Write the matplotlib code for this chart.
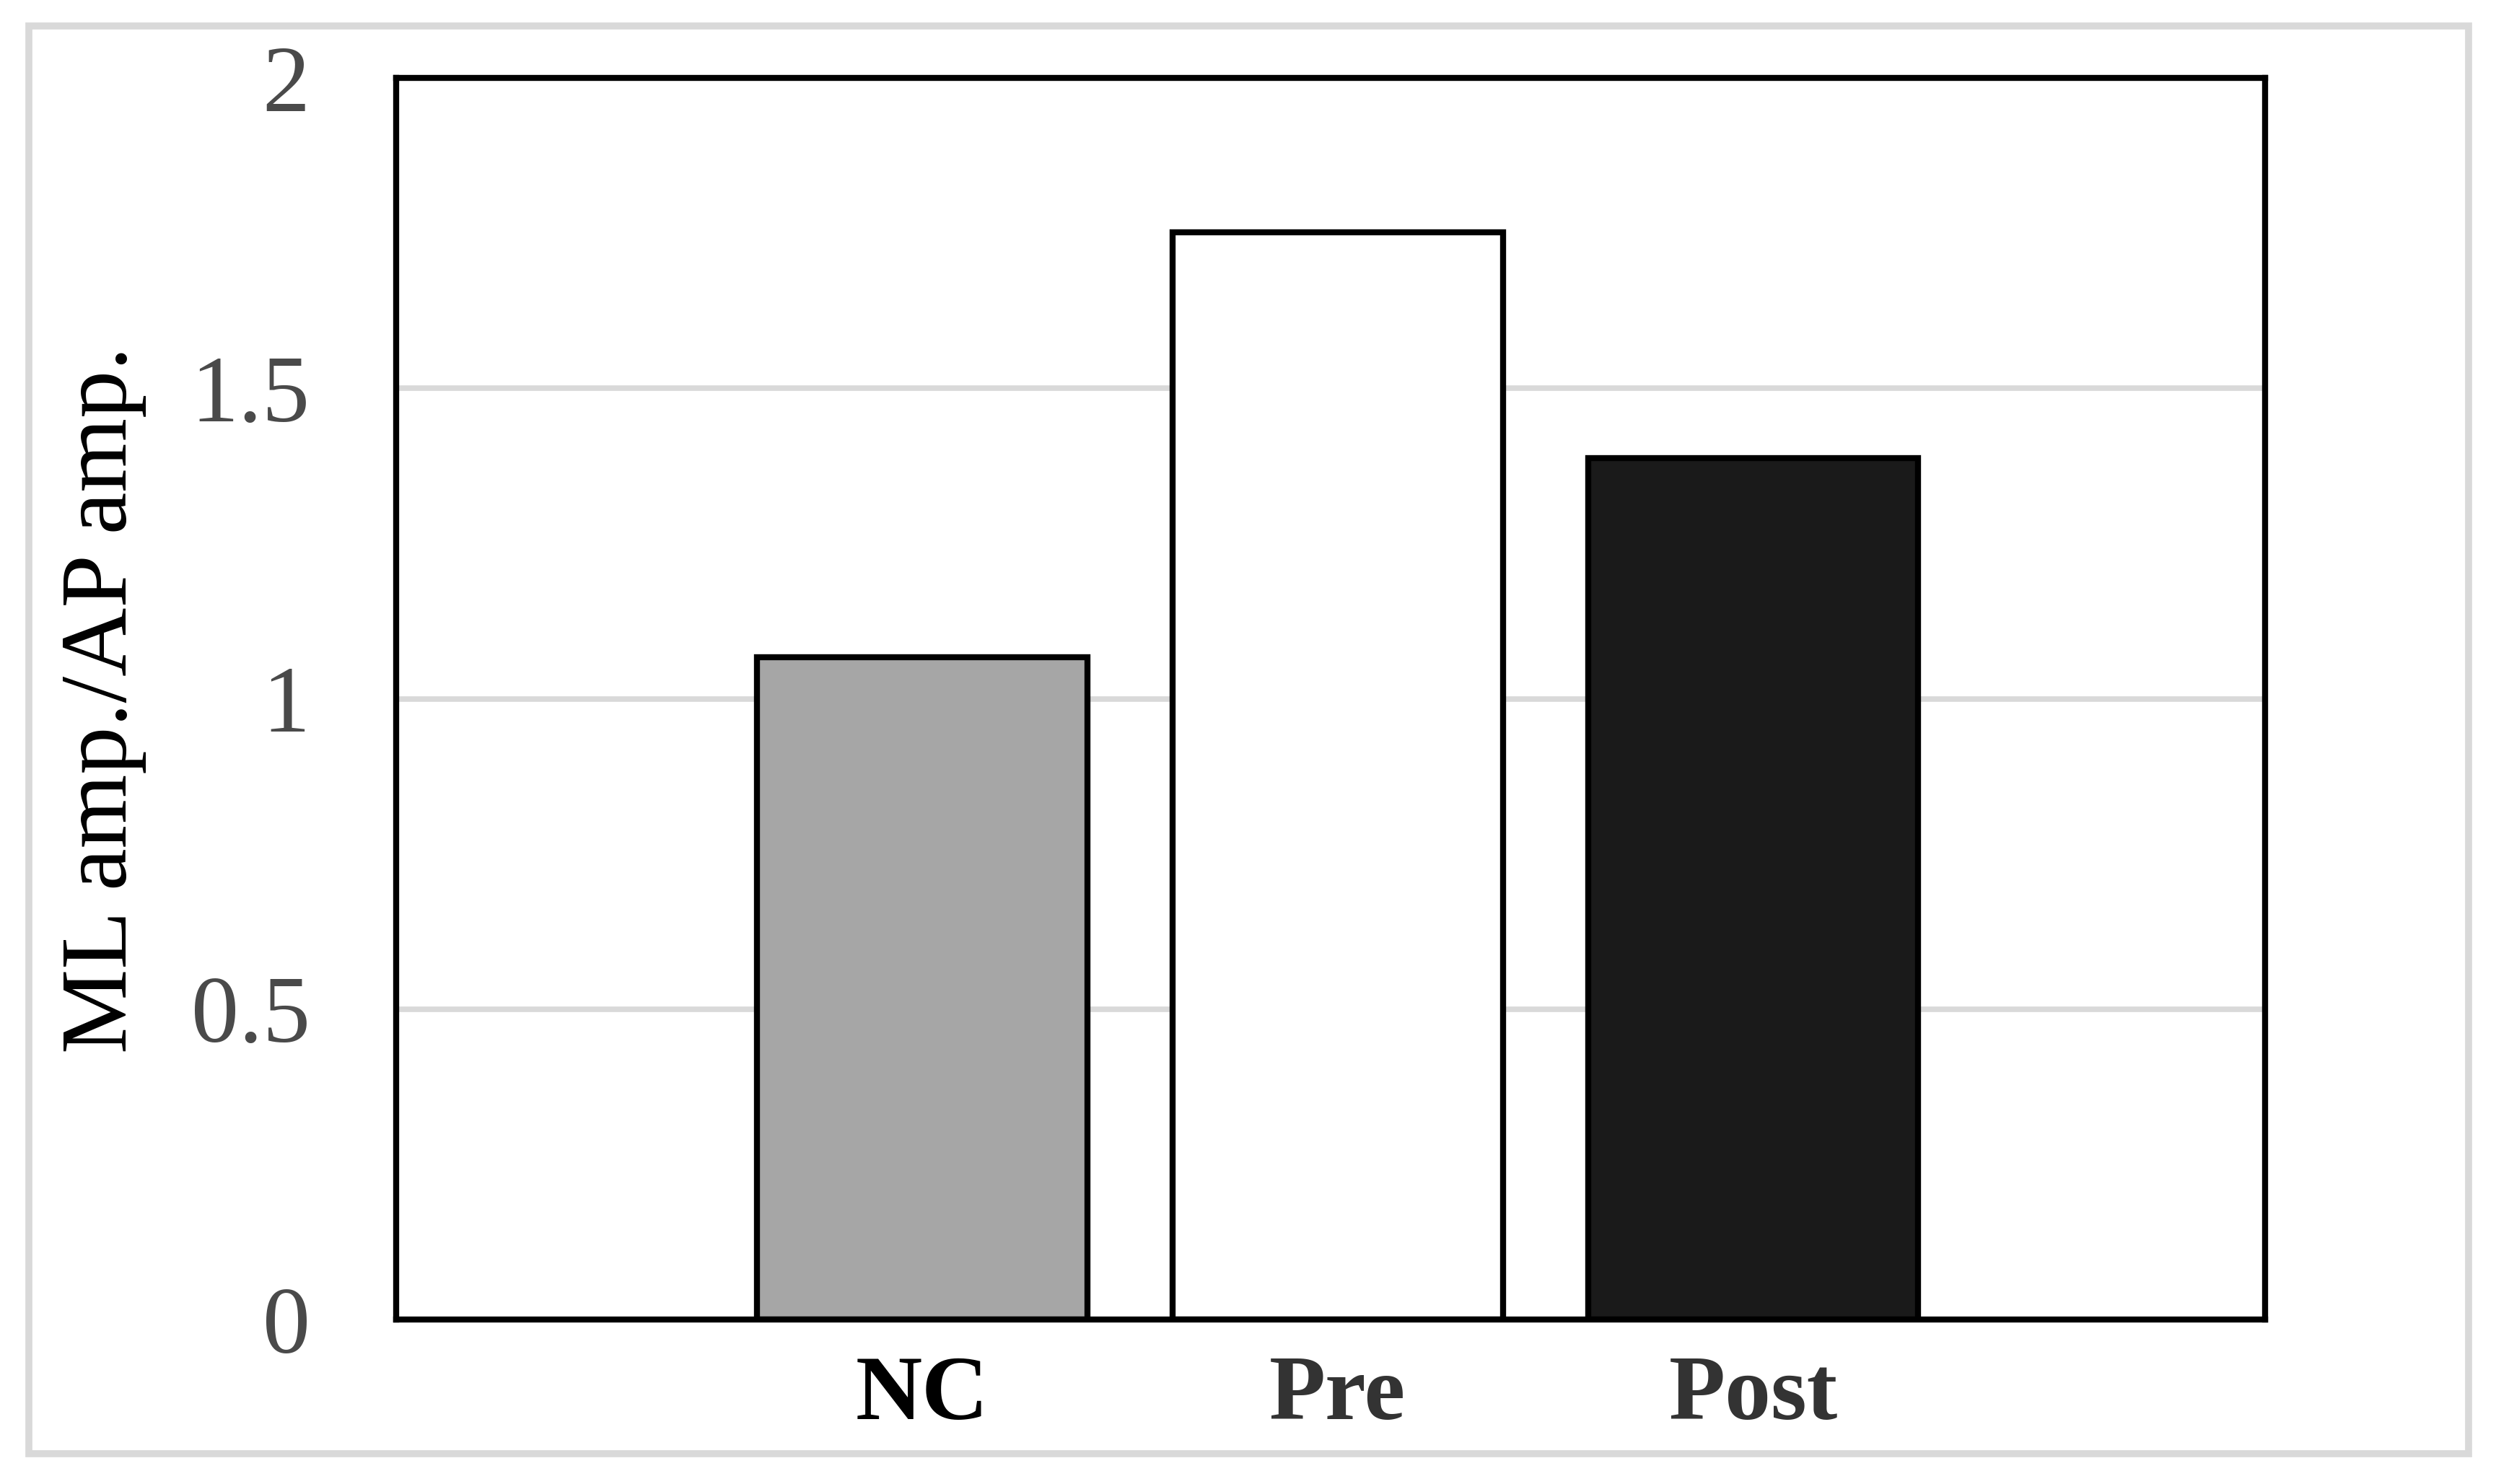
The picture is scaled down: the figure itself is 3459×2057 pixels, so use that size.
import matplotlib
matplotlib.use("Agg")
import matplotlib.pyplot as plt
from matplotlib.patches import Rectangle

categories = ["NC", "Pre", "Post"]
values = [1.067, 1.751, 1.387]
bar_colors = ["#a6a6a6", "#ffffff", "#1a1a1a"]
label_colors = ["#000000", "#333333", "#333333"]
yticks = [0, 0.5, 1, 1.5, 2]
ytick_labels = ["0", "0.5", "1", "1.5", "2"]
ylabel = "ML amp./AP amp."

W, H, DPI = 3459, 2057, 100
fig = plt.figure(figsize=(W / DPI, H / DPI), dpi=DPI)
fig.patch.set_facecolor("white")

ax = fig.add_axes([549 / W, 1 - 1829 / H, (3139 - 549) / W, (1829 - 108) / H])

x = list(range(len(categories)))
ax.bar(x, values, width=0.795, color=bar_colors, edgecolor="black",
       linewidth=6, zorder=3)

ax.set_xlim(-1.266, 3.232)
ax.set_ylim(0, 2)
ax.set_yticks(yticks)
ax.set_yticklabels(ytick_labels, fontfamily="Liberation Serif",
                   fontsize=95, color="#4a4a4a")
ax.set_xticks(x)
ax.set_xticklabels(categories, fontfamily="Liberation Serif",
                   fontsize=92, fontweight="bold")
for lbl, c in zip(ax.get_xticklabels(), label_colors):
    lbl.set_color(c)
ax.tick_params(axis="y", length=0, pad=86)
ax.tick_params(axis="x", length=0, pad=36)

for yv in yticks[1:-1]:
    ax.axhline(yv, color="#d9d9d9", linewidth=5.5, zorder=1)

for s in ax.spines.values():
    s.set_linewidth(6)
    s.set_color("black")
    s.set_zorder(4)

fig.text(143 / W, 1 - 970 / H, ylabel, rotation=90, ha="center", va="center",
         fontfamily="Liberation Serif", fontsize=95, color="black")

border = Rectangle((40 / W, 1 - 2015 / H), (3421 - 40) / W, (2015 - 36) / H,
                   transform=fig.transFigure, fill=False,
                   edgecolor="#d9d9d9", linewidth=7)
fig.patches.append(border)

fig.savefig("out.png", dpi=DPI, facecolor="white")
